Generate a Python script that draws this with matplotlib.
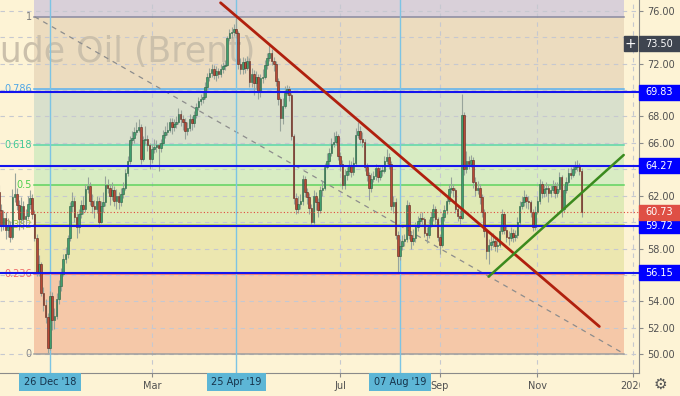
import matplotlib
matplotlib.use('Agg')
import matplotlib.pyplot as plt
import matplotlib.patches as mpatches
import matplotlib.transforms as mtransforms
import numpy as np
import pandas as pd

# %% data (daily Brent candles)
start_date = '2018-11-22'
holidays = ['2018-12-25', '2019-01-01', '2019-04-19']
first_open = 62.3

closes = [
    60.9, 59.8, 60.3, 59.4, 59.7, 58.9, 61.9, 62.1, 61.3, 60.2,
    61.2, 60.2, 60.5, 61.4, 61.8, 60.6, 58.8, 56.2, 56.8, 54.6,
    53.7, 52.8, 50.5, 54.4, 52.6, 52.9, 54.2, 55.2, 56.1, 57.2,
    57.6, 58.8, 61.2, 61.6, 60.4, 59.6, 60.6, 61.3, 61.0, 62.5,
    62.7, 61.6, 61.2, 61.0, 61.6, 60.0, 61.2, 61.5, 62.8, 62.6,
    62.0, 62.4, 61.6, 62.0, 61.5, 62.1, 62.6, 63.7, 64.6, 66.2,
    66.4, 66.8, 67.0, 67.2, 64.8, 66.2, 66.3, 65.8, 64.8, 65.5,
    65.7, 65.8, 65.6, 66.0, 66.6, 66.8, 67.0, 67.6, 67.2, 67.4,
    67.6, 68.2, 67.8, 67.6, 66.9, 67.1, 67.8, 67.5, 68.1, 68.7,
    69.2, 69.3, 69.5, 70.2, 71.0, 71.3, 71.6, 71.1, 71.4, 71.2,
    71.6, 71.8, 71.9, 73.9, 74.3, 74.4, 74.6, 74.3, 72.0, 71.6,
    72.1, 71.7, 72.2, 70.6, 71.2, 70.5, 71.0, 69.9, 70.9,
    71.0, 71.9, 72.4, 72.8, 72.2, 72.0, 70.7, 69.3, 67.9, 68.8,
    69.8, 70.1, 69.6, 66.5, 61.8, 61.0, 61.4, 61.6, 63.3, 62.3,
    61.9, 61.1, 60.0, 62.0, 61.5, 60.9, 62.4, 62.6, 64.2, 64.6,
    65.2, 65.9, 66.1, 66.5, 65.0, 64.4, 62.8, 63.6, 63.9, 64.3,
    63.8, 64.5, 66.6, 66.9, 66.3, 66.1, 64.2, 63.6, 62.6, 63.3,
    63.5, 64.1, 63.4, 63.9, 63.9, 64.6, 64.9, 64.4, 61.2, 61.5,
    59.0, 57.4, 58.2, 58.6, 58.7, 61.3, 59.0, 58.6, 58.8, 59.6,
    60.1, 60.3, 60.2, 59.2, 59.0, 59.8, 60.4, 61.0, 60.2, 58.9,
    58.3, 60.4, 60.9, 61.6, 62.5, 62.6, 62.4, 61.0, 60.5, 60.3,
    68.1, 64.0, 64.6, 64.4, 64.7, 63.0, 62.4, 62.6, 61.9, 60.8,
    59.3, 57.8, 58.3, 58.5, 58.6, 58.2, 58.3, 59.3, 60.6, 59.4,
    58.9, 58.8, 59.2, 58.9, 59.0, 60.0, 61.2, 61.5, 61.9, 61.6,
    61.5, 60.8, 59.6, 60.8, 61.6, 62.9, 62.2, 62.5, 62.6, 62.2,
    62.4, 62.7, 62.2, 62.5, 63.4, 61.0, 62.4, 63.0, 63.7, 63.6,
    64.0, 64.2, 64.3, 63.9, 60.73,
]
highs = [
    62.8, 61.4, 60.9, 60.8, 60.3, 60.1, 62.5, 63.7, 62.6, 61.7,
    61.9, 61.6, 61.0, 62.0, 62.4, 62.1, 60.9, 59.1, 57.5, 57.0,
    55.1, 54.2, 53.1, 54.8, 54.7, 53.5, 54.6, 55.6, 56.5, 57.6,
    58.1, 59.0, 61.5, 62.3, 61.9, 60.7, 61.0, 61.7, 62.0, 62.9,
    63.4, 63.0, 62.1, 61.7, 62.0, 61.9, 61.6, 62.3, 63.5, 63.3,
    62.9, 63.0, 62.7, 62.5, 62.3, 62.6, 63.0, 64.0, 65.0, 66.5,
    66.9, 67.2, 67.6, 67.8, 67.4, 66.5, 67.3, 66.6, 66.0, 65.9,
    66.3, 66.2, 66.0, 66.3, 67.0, 67.3, 67.6, 67.9, 67.9, 67.8,
    68.0, 68.6, 68.5, 68.1, 67.9, 67.6, 68.2, 68.0, 68.4, 69.0,
    69.5, 69.7, 69.9, 70.6, 71.3, 71.7, 72.0, 71.9, 71.8, 71.7,
    72.0, 72.1, 72.3, 74.1, 74.6, 74.8, 75.0, 75.55, 74.5, 72.4,
    72.5, 72.4, 72.6, 72.4, 71.7, 71.5, 71.4, 71.2, 71.2,
    71.6, 72.3, 72.8, 73.4, 73.1, 72.5, 72.2, 70.9, 69.5, 69.4,
    70.3, 70.4, 70.3, 69.8, 66.7, 62.2, 62.0, 62.1, 63.6, 63.5,
    62.6, 62.2, 61.4, 62.4, 62.3, 61.8, 62.7, 63.1, 64.5, 65.2,
    65.6, 66.4, 66.8, 66.9, 66.7, 65.3, 64.7, 64.0, 64.2, 64.7,
    64.6, 64.9, 67.1, 67.6, 67.3, 66.8, 66.3, 64.5, 63.8, 63.7,
    63.9, 64.4, 64.3, 64.2, 64.3, 65.0, 65.5, 65.2, 64.6, 62.0,
    61.8, 59.3, 58.7, 59.0, 59.1, 61.7, 61.5, 59.3, 59.5, 60.0,
    60.5, 60.7, 60.8, 60.4, 59.6, 60.2, 60.8, 61.4, 61.2, 60.4,
    59.1, 60.7, 61.3, 62.0, 62.9, 63.4, 62.9, 62.6, 61.3, 60.9,
    69.7, 68.3, 65.4, 65.0, 65.1, 64.9, 63.4, 63.1, 62.9, 62.1,
    61.0, 59.5, 58.7, 59.0, 59.2, 58.8, 58.9, 59.7, 61.0, 60.8,
    59.7, 59.3, 59.6, 59.5, 59.4, 60.4, 61.6, 62.0, 62.4, 62.1,
    62.0, 61.7, 61.0, 61.2, 62.0, 63.3, 63.1, 62.9, 63.0, 62.9,
    62.8, 63.2, 63.0, 63.0, 63.8, 63.6, 62.8, 63.4, 64.1, 64.2,
    64.3, 64.6, 64.7, 64.5, 64.1,
]
lows = [
    60.5, 59.3, 59.4, 58.7, 58.9, 58.5, 58.7, 61.5, 60.9, 59.4,
    59.9, 59.5, 59.8, 60.2, 61.0, 60.2, 58.6, 55.9, 55.9, 54.4,
    53.3, 52.4, 50.1, 50.3, 51.8, 51.9, 52.7, 53.8, 54.8, 55.9,
    56.9, 57.3, 58.6, 60.8, 60.0, 58.8, 59.2, 60.3, 60.6, 60.8,
    62.2, 61.3, 60.7, 60.3, 60.7, 59.6, 59.9, 60.8, 61.2, 62.2,
    61.3, 61.7, 61.2, 61.0, 61.0, 61.2, 61.8, 62.4, 63.5, 64.4,
    65.8, 66.0, 66.6, 66.8, 64.4, 64.6, 65.9, 65.4, 64.0, 64.5,
    65.2, 65.3, 63.9, 65.3, 65.8, 66.4, 66.6, 66.8, 66.7, 66.9,
    67.1, 67.4, 67.3, 67.0, 66.3, 66.6, 66.9, 67.0, 67.2, 67.9,
    68.5, 68.9, 69.0, 69.3, 70.0, 70.7, 71.0, 70.8, 70.7, 70.9,
    71.0, 71.3, 71.5, 71.8, 73.7, 73.9, 74.1, 73.9, 71.6, 71.2,
    71.2, 71.3, 71.5, 70.2, 70.2, 69.6, 70.1, 69.3, 69.5,
    70.5, 70.8, 71.6, 72.2, 71.9, 71.4, 70.3, 68.9, 66.9, 67.4,
    68.6, 69.6, 69.2, 66.2, 61.4, 60.6, 60.7, 61.0, 61.3, 61.9,
    61.4, 60.6, 59.7, 59.8, 60.9, 60.4, 60.7, 62.0, 62.4, 64.0,
    64.3, 65.0, 65.7, 65.9, 64.7, 63.9, 62.5, 62.5, 63.2, 63.6,
    63.4, 63.6, 64.3, 66.4, 66.0, 65.7, 63.9, 63.1, 61.7, 62.3,
    63.0, 63.2, 63.0, 63.2, 63.5, 63.7, 64.4, 64.0, 60.9, 60.7,
    58.7, 56.2, 57.1, 57.9, 58.2, 58.5, 58.7, 58.0, 58.3, 58.5,
    59.3, 59.8, 59.8, 58.9, 58.4, 58.8, 59.6, 60.1, 59.8, 58.6,
    57.6, 58.1, 60.1, 60.6, 61.4, 62.2, 61.9, 60.7, 60.1, 59.8,
    60.2, 63.6, 63.7, 64.0, 64.2, 62.6, 62.0, 62.1, 61.4, 60.4,
    58.9, 57.2, 56.8, 57.9, 58.1, 57.8, 57.7, 58.1, 59.1, 59.1,
    58.5, 58.3, 58.6, 58.5, 58.6, 58.8, 59.8, 61.0, 61.2, 61.1,
    61.0, 60.4, 59.3, 59.4, 60.6, 61.4, 61.8, 61.9, 62.0, 61.5,
    61.9, 62.2, 61.8, 61.9, 62.3, 60.4, 60.8, 62.2, 62.8, 63.3,
    63.4, 63.7, 63.9, 63.6, 60.4,
]

# fibonacci retracement drawing
fib_high = 75.55
fib_low = 50.05
fib_start = '2018-12-14'
fib_end = '2019-12-26'
fib_levels = [1, 0.786, 0.618, 0.5, 0.382, 0.236, 0]
fib_labels = ['1', '0.786', '0.618', '0.5', '0.382', '0.236', '0']

# horizontal levels and price marks
blue_levels = [69.83, 64.27, 59.72, 56.15]
last_price = 60.73
cross_price = 73.50

# trend lines
red_line_dates = ['2019-04-15', '2019-12-11']
red_line_prices = [76.6, 52.1]
green_line_dates = ['2019-10-02', '2019-12-26']
green_line_prices = [55.87, 65.08]

# time axis
marked_dates = ['2018-12-26', '2019-04-25', '2019-08-07']
marked_labels = ["26 Dec '18", "25 Apr '19", "07 Aug '19"]
month_dates = ['2019-03-01', '2019-07-01', '2019-09-02', '2019-11-01', '2020-01-01']
month_labels = ['Mar', 'Jul', 'Sep', 'Nov', '2020']
price_ticks = np.arange(50, 77, 2)

# %% styling
bg = '#fdf3d5'
zone_colors = ['#d9d0d9', '#ecdcbf', '#d9e0cc', '#d8ecc3', '#dfeab6', '#ece7b0', '#f5c8a8']
fib_line_colors = ['#8a8aa0', '#5ab0f0', '#5cd6a8', '#5fd35f', '#b5d040', '#f26d6d', '#9e9e9e']
fib_text_colors = ['#7d7d7d', '#4fa6e6', '#3fc795', '#4ccf4c', '#a6c23a', '#ef6a6a', '#8a8a8a']
up_col, up_edge = '#3f9f6e', '#2a5e42'
dn_col, dn_edge = '#b84a38', '#5a261c'
wick_col = '#98a49b'
grid_col = '#c6c8d0'

days = pd.bdate_range(start_date, '2020-02-28')
days = days[~days.isin(pd.to_datetime(holidays))]
pos = {d: i for i, d in enumerate(days)}


def xpos(d):
    return pos[pd.Timestamp(d)]


closes = np.array(closes)
highs = np.array(highs)
lows = np.array(lows)
opens = np.r_[first_open, closes[:-1]]
x = np.arange(len(closes))

fig = plt.figure(figsize=(6.8, 3.96), dpi=100)
fig.patch.set_facecolor(bg)
ax = fig.add_axes([0, 23 / 396, 639 / 680, 373 / 396])
ax.set_facecolor(bg)
ax.set_xlim(0.43, 288.9)
ax.set_ylim(48.58, 76.81)

# fib zones
fx0, fx1 = xpos(fib_start), xpos(fib_end)
fib_prices = [fib_low + l * (fib_high - fib_low) for l in fib_levels]
ax.fill_between([fx0, fx1], fib_high, 80, color=zone_colors[0], lw=0, zorder=0.5)
for k in range(len(fib_prices) - 1):
    ax.fill_between([fx0, fx1], fib_prices[k + 1], fib_prices[k],
                    color=zone_colors[k + 1], lw=0, zorder=0.5)

# grid
for p in price_ticks:
    ax.axhline(p, color=grid_col, lw=0.8, ls=(0, (4, 4)), zorder=1)
for d in month_dates:
    ax.axvline(xpos(d), color=grid_col, lw=0.8, ls=(0, (4, 4)), zorder=1)

# watermark
ax.text(255 / 639, (373 - 62) / 373, 'Crude Oil (Brent)', transform=ax.transAxes,
        ha='right', va='baseline', fontsize=25, color='#cbc0ab', zorder=1.2)

# fib lines and labels
for p, lab, lc, tc in zip(fib_prices, fib_labels, fib_line_colors, fib_text_colors):
    ax.plot([fx0, fx1], [p, p], color=lc, lw=1.1, zorder=2)
    ax.text(fx0 - 1.3, p, lab, ha='right', va='center', fontsize=7, color=tc, zorder=2)
ax.plot([fx0, fx1], [fib_high, fib_low], color='#8d8d8d', lw=0.9,
        ls=(0, (4, 4)), zorder=2)

# marked date lines
for d in marked_dates:
    ax.axvline(xpos(d), color='#7cc4e4', lw=1.0, zorder=2.5)

# candles
up = closes >= opens
body = np.maximum(np.abs(closes - opens), 0.06)
ax.vlines(x, lows, highs, color=wick_col, lw=0.8, zorder=4)
ax.bar(x[up], body[up], bottom=opens[up], width=0.72, color=up_col,
       edgecolor=up_edge, lw=0.4, zorder=5)
ax.bar(x[~up], body[~up], bottom=closes[~up], width=0.72, color=dn_col,
       edgecolor=dn_edge, lw=0.4, zorder=5)

# horizontal levels
for p in blue_levels:
    ax.axhline(p, color='#1414ee', lw=1.5, zorder=6)
ax.axhline(last_price, color='#e0483e', lw=0.8, ls=(0, (1, 2)), zorder=6)

# trend lines
ax.plot([xpos(d) for d in red_line_dates], red_line_prices, color='#b0200e',
        lw=2.0, solid_capstyle='round', zorder=7)
ax.plot([xpos(d) for d in green_line_dates], green_line_prices, color='#3b8a1e',
        lw=1.8, solid_capstyle='round', zorder=7)

# axes look
for s in ['top', 'left']:
    ax.spines[s].set_visible(False)
for s in ['right', 'bottom']:
    ax.spines[s].set_color('#8a8a8a')
    ax.spines[s].set_linewidth(0.8)

# price boxes cover the plain tick labels next to them
box_prices = blue_levels + [last_price, cross_price]
ax.yaxis.tick_right()
ax.set_yticks(price_ticks)
ax.set_yticklabels(['' if min(abs(p - b) for b in box_prices) < 0.9 else '%.2f' % p
                    for p in price_ticks])
ax.set_xticks([xpos(d) for d in month_dates])
ax.set_xticklabels(month_labels)
ax.tick_params(axis='both', length=3, color='#8a8a8a', labelsize=7,
               labelcolor='#505050', pad=3)

ytr = mtransforms.blended_transform_factory(ax.transAxes, ax.transData)
box_h = 15 / 13.215
box_items = [(p, '%.2f' % p, '#0000ff') for p in blue_levels]
box_items += [(last_price, '%.2f' % last_price, '#df4f45'),
              (cross_price, '%.2f' % cross_price, '#3f4550')]
for p, lab, c in box_items:
    ax.add_patch(mpatches.Rectangle((1.0, p - box_h / 2), 41 / 639, box_h,
                                    transform=ytr, color=c, clip_on=False, zorder=10))
    ax.text(1.0 + 20 / 639, p, lab, transform=ytr, ha='center', va='center',
            fontsize=7, color='white', zorder=11, clip_on=False)
ax.add_patch(mpatches.Rectangle((624 / 639, cross_price - box_h / 2), 13 / 639, box_h,
                                transform=ytr, color='#3f4550', clip_on=False, zorder=10))
ax.text(630.5 / 639, cross_price, '+', transform=ytr, ha='center', va='center',
        fontsize=10, color='white', zorder=11)

# highlighted date labels
xtr = mtransforms.blended_transform_factory(ax.transData, ax.transAxes)
for d, lab in zip(marked_dates, marked_labels):
    ax.text(xpos(d), -9 / 373, lab, transform=xtr, ha='center', va='center',
            fontsize=7, color='#16324a', clip_on=False, zorder=11,
            bbox=dict(boxstyle='square,pad=0.45', fc='#5db6d6', ec='none'))

# bottom-right corner cell (cuts the 2020 label like the reference)
fig.patches.append(mpatches.Rectangle((639.6 / 680, 0), 40.4 / 680, 22.5 / 396,
                                      transform=fig.transFigure, color=bg, zorder=5))
fig.text(660 / 680, 12 / 396, '\u2699', ha='center', va='center',
         fontsize=11, color='#555555', zorder=6)

fig.savefig('out.png', dpi=100, facecolor=bg)
